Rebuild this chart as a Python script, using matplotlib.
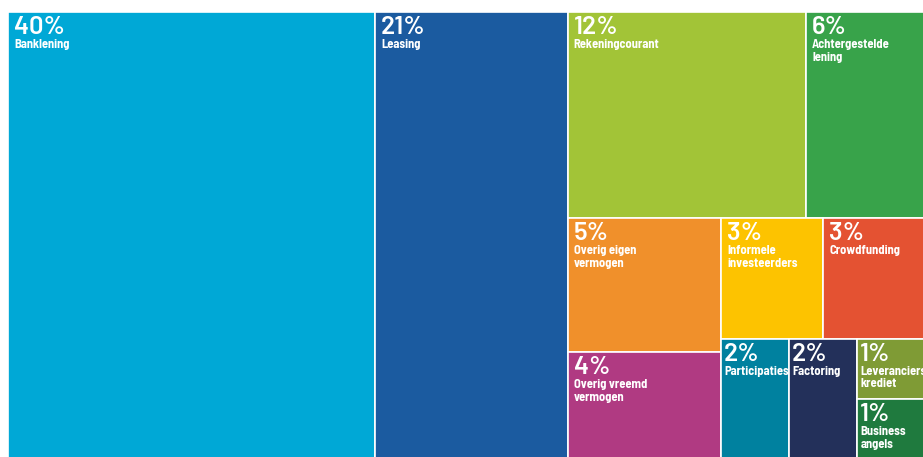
import matplotlib.pyplot as plt
from matplotlib.patches import Rectangle

# gegevens
namen = ["Banklening", "Leasing", "Rekeningcourant", "Achtergestelde\nlening",
         "Overig eigen\nvermogen", "Informele\ninvesteerders", "Crowdfunding",
         "Overig vreemd\nvermogen", "Participaties", "Factoring",
         "Leveranciers\nkrediet", "Business\nangels"]
waarden = [40, 21, 12, 6, 5, 3, 3, 4, 2, 2, 1, 1]
kleuren = ["#00a8d6", "#1b5ba0", "#a2c437", "#38a34a",
           "#f0902b", "#fdc300", "#e45232",
           "#b03a82", "#00819f", "#23305a",
           "#7f9b35", "#1f7a3e"]

# indeling: "h" = naast elkaar, "v" = onder elkaar (indexen in de lijsten hierboven)
indeling = ("h", [0, 1,
                  ("v", [("h", [2, 3]),
                         ("h", [("v", [4, 7]),
                                ("v", [("h", [5, 6]),
                                       ("h", [8, 9, ("v", [10, 11])])])])])])


def totaal(knoop):
    if isinstance(knoop, int):
        return waarden[knoop]
    return sum(totaal(k) for k in knoop[1])


def verdeel(knoop, x, y, b, h, uit):
    if isinstance(knoop, int):
        uit.append((knoop, x, y, b, h))
        return
    richting, kinderen = knoop
    som = totaal(knoop)
    for k in kinderen:
        deel = totaal(k) / som
        if richting == "h":
            verdeel(k, x, y, b * deel, h, uit)
            x += b * deel
        else:
            verdeel(k, x, y, b, h * deel, uit)
            y += h * deel


cellen = []
verdeel(indeling, 8, 12, 917.5, 447, cellen)

fig = plt.figure(figsize=(9.23, 4.57), dpi=100)
ax = fig.add_axes([0, 0, 1, 1])
ax.set_xlim(0, 923)
ax.set_ylim(457, 0)
ax.axis("off")

for i, x, y, b, h in cellen:
    ax.add_patch(Rectangle((x, y), b, h, facecolor=kleuren[i],
                           edgecolor="white", linewidth=1.2))
    marge = 6 if b > 100 else 3
    ax.text(x + marge, y + 4, f"{waarden[i]}%", color="white", fontsize=18.5,
            fontweight="semibold", va="top", ha="left",
            family=["Barlow", "DejaVu Sans"])
    ax.text(x + marge, y + 27, namen[i], color="white", fontsize=9,
            fontweight="bold", va="top", ha="left", linespacing=1.2,
            family=["Barlow Semi Condensed", "DejaVu Sans"])

fig.savefig("out.png", dpi=100)
